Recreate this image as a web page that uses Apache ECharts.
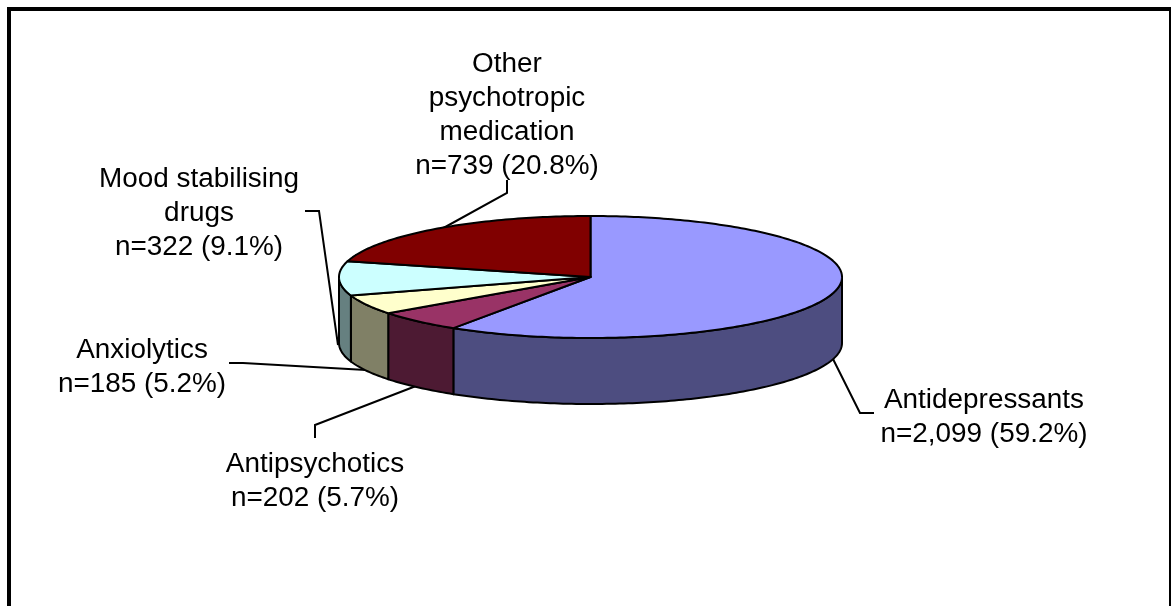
<!DOCTYPE html>
<html>
<head>
<meta charset="utf-8">
<style>html,body{margin:0;padding:0;background:#fff}#chart{width:1171px;height:606px}</style>
<script src="https://cdn.jsdelivr.net/npm/echarts@6/dist/echarts.min.js"></script>
</head>
<body>
<div id="chart"></div>
<script>
// Psychotropic medication classes and their counts
const categories = ['Antidepressants', 'Antipsychotics', 'Anxiolytics', 'Mood stabilising drugs', 'Other psychotropic medication'];
const counts = [2099, 202, 185, 322, 739];
const countLabels = ['n=2,099 (59.2%)', 'n=202 (5.7%)', 'n=185 (5.2%)', 'n=322 (9.1%)', 'n=739 (20.8%)'];
const labelNames = ['Antidepressants', 'Antipsychotics', 'Anxiolytics', 'Mood stabilising\ndrugs', 'Other\npsychotropic\nmedication'];
const topColors = ['#9999FF', '#993366', '#FFFFCC', '#CCFFFF', '#800000'];
const wallColors = ['#4D4D80', '#4D1A33', '#808066', '#668080', '#400000'];

// Tilted-disc geometry
const disc = { cx: 590.5, cy: 277, rx: 251.5, ry: 61, depth: 66 };

// Label anchors (centre x, first-line centre y) and leader paths
const labelLayout = [
  { x: 984, y: 401, leader: [[833, 359], [860, 413], [874, 413]] },
  { x: 315, y: 465, leader: [[416, 386], [315, 425], [315, 438]] },
  { x: 142, y: 351, leader: [[366, 370], [243, 363], [229, 363]] },
  { x: 199, y: 180, leader: [[338, 345], [319, 211], [305, 211]] },
  { x: 507, y: 65, leader: [[438, 231], [507, 193], [507, 180]] }
];
const lineHeight = 34;

const total = counts.reduce((a, b) => a + b, 0);
const startAngles = counts.map((_, i) => counts.slice(0, i).reduce((a, b) => a + b, 0) / total * 360);

// Angle is clockwise from twelve o'clock on the flattened disc
function rim(deg, dy) {
  const t = deg * Math.PI / 180;
  return [disc.cx + disc.rx * Math.sin(t), disc.cy - disc.ry * Math.cos(t) + (dy || 0)];
}
function arc(a, b, dy) {
  const pts = [];
  const n = Math.max(2, Math.ceil(Math.abs(b - a)));
  for (let i = 0; i <= n; i++) pts.push(rim(a + (b - a) * i / n, dy));
  return pts;
}
const edge = { stroke: '#000', lineWidth: 2, lineJoin: 'round' };

function renderSlice(params, api) {
  const i = params.dataIndex;
  const a = startAngles[i];
  const b = a + api.value(0) / total * 360;
  const children = [];
  // The wall is only visible on the near half of the disc
  const wa = Math.max(a, 90), wb = Math.min(b, 270);
  if (wb > wa) {
    children.push({
      type: 'polygon',
      shape: { points: arc(wa, wb, 0).concat(arc(wb, wa, disc.depth)) },
      style: Object.assign({ fill: wallColors[i] }, edge)
    });
  }
  children.push({
    type: 'polygon',
    shape: { points: [[disc.cx, disc.cy]].concat(arc(a, b, 0)) },
    style: Object.assign({ fill: topColors[i] }, edge)
  });
  return { type: 'group', children };
}

function renderLabel(params) {
  const i = params.dataIndex;
  const l = labelLayout[i];
  return {
    type: 'group',
    children: [
      {
        type: 'polyline',
        shape: { points: l.leader },
        style: { stroke: '#000', lineWidth: 2, fill: null }
      },
      {
        type: 'text',
        x: l.x,
        y: l.y - lineHeight / 2,
        scaleX: 1.033,
        style: {
          text: labelNames[i] + '\n' + countLabels[i],
          fontFamily: '"Liberation Sans", Arial, sans-serif',
          fontSize: 27,
          lineHeight: lineHeight,
          fill: '#000',
          align: 'center',
          verticalAlign: 'top'
        }
      }
    ]
  };
}

const chart = echarts.init(document.getElementById('chart'), null, { renderer: 'canvas' });
chart.setOption({
  animation: false,
  backgroundColor: '#fff',
  graphic: [{
    type: 'rect',
    silent: true,
    shape: { x: 9, y: 9, width: 1162, height: 800 },
    style: { fill: null, stroke: '#000', lineWidth: 4 }
  }],
  series: [
    {
      type: 'custom',
      name: 'labels',
      coordinateSystem: 'none',
      silent: true,
      z: 1,
      renderItem: renderLabel,
      data: categories.map((name, i) => ({ name, value: [counts[i]] }))
    },
    {
      type: 'custom',
      name: 'slices',
      coordinateSystem: 'none',
      silent: true,
      z: 2,
      renderItem: renderSlice,
      data: categories.map((name, i) => ({ name, value: [counts[i]] }))
    }
  ]
});
</script>
</body>
</html>
